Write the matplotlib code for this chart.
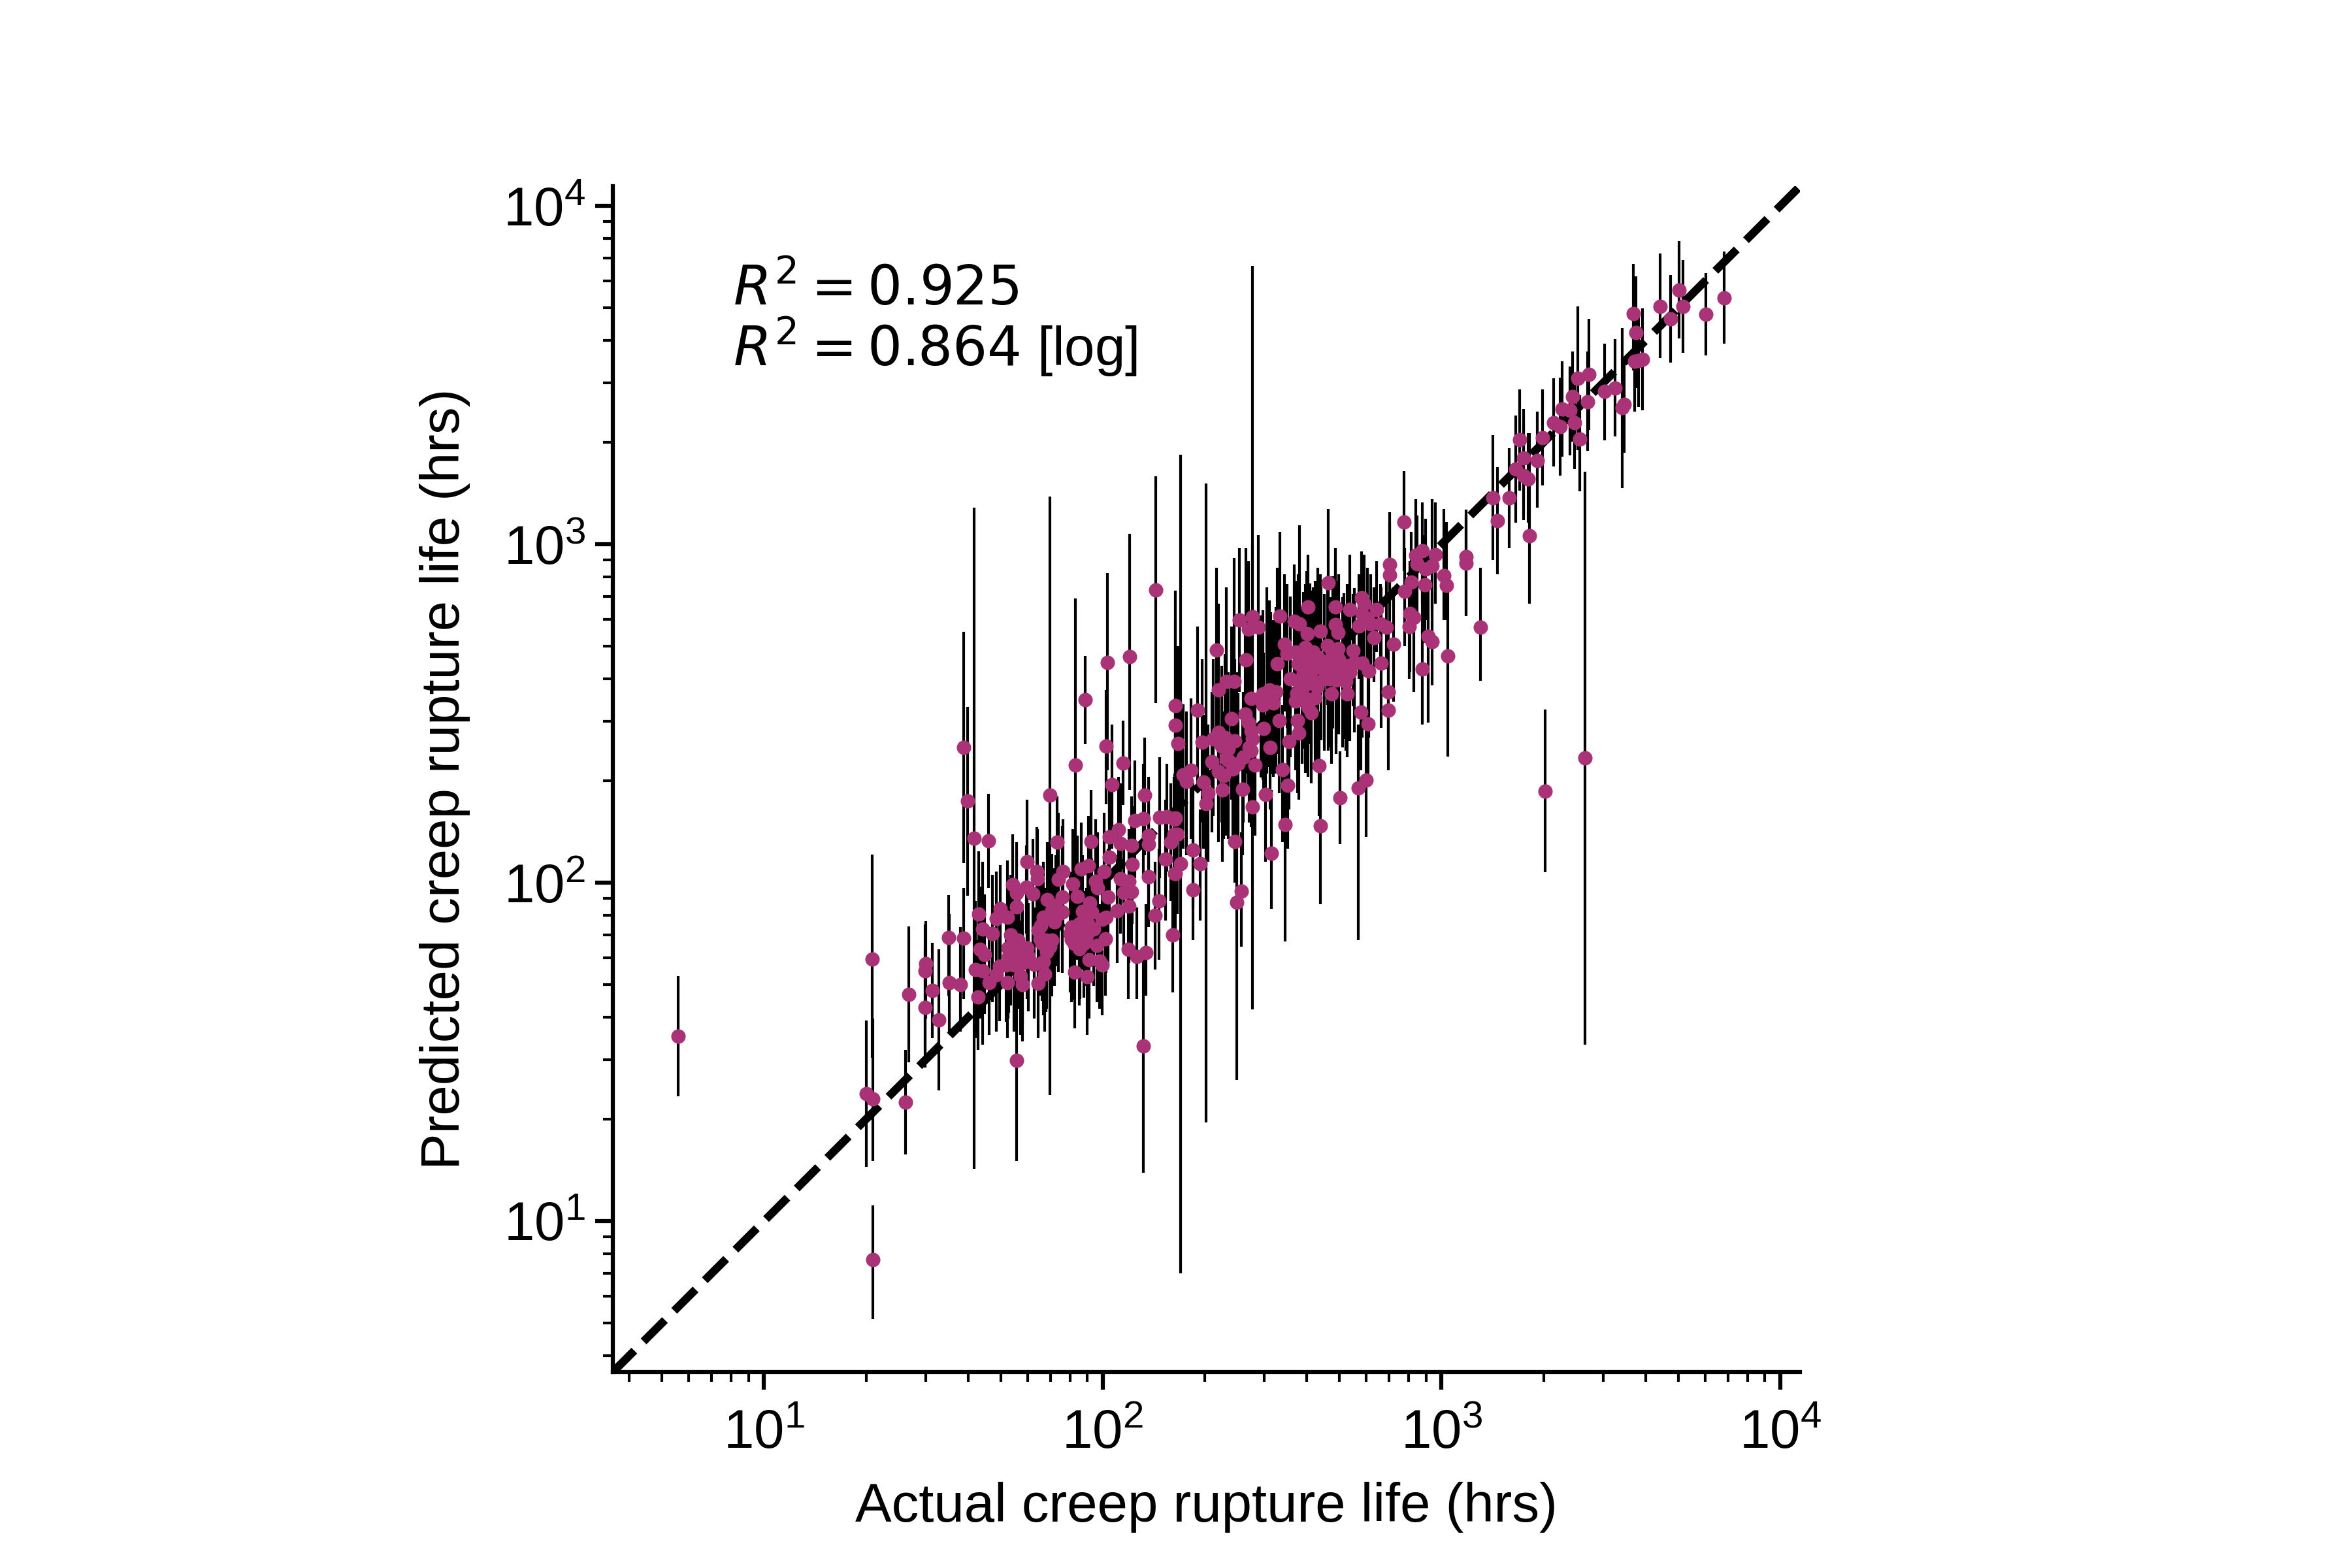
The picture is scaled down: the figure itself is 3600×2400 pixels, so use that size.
import numpy as np
import matplotlib
matplotlib.use('Agg')
import matplotlib.pyplot as plt

plt.rcParams['font.family'] = ['Liberation Sans', 'DejaVu Sans']

log_actual = [
    0.746, 1.301, 1.322, 1.320, 1.322, 1.417, 1.428, 1.476, 1.476, 1.478, 1.497, 1.516, 1.544, 1.546, 1.579, 1.590,
    1.589, 1.600, 1.621, 1.663, 1.633, 1.631, 1.623, 1.646, 1.675, 1.637, 1.650, 1.646, 1.665, 1.685, 1.685, 1.698,
    1.718, 1.728, 1.749, 1.720, 1.753, 1.776, 1.714, 1.737, 1.762, 1.758, 1.762, 1.718, 1.745, 1.734, 1.745, 1.774,
    1.793, 1.745, 1.776, 1.806, 1.808, 1.843, 1.866, 1.837, 1.881, 1.862, 1.881, 1.858, 1.824, 1.816, 1.814, 1.833,
    1.843, 1.835, 1.797, 1.824, 1.829, 1.810, 1.883, 1.868, 1.911, 1.925, 1.919, 1.948, 1.965, 1.936, 1.957, 2.003,
    1.978, 1.984, 2.015, 1.961, 1.940, 1.967, 1.930, 1.903, 1.907, 1.932, 1.974, 1.951, 1.930, 2.007, 1.982, 1.959,
    1.990, 1.999, 1.917, 1.953, 2.009, 2.013, 2.059, 2.080, 2.028, 2.046, 2.019, 2.052, 2.085, 2.094, 2.119, 2.123,
    2.167, 2.190, 2.212, 2.135, 2.135, 2.200, 2.210, 2.019, 2.087, 2.185, 2.135, 2.212, 2.052, 2.077, 2.062, 2.085,
    2.077, 2.043, 2.009, 1.999, 2.165, 2.154, 2.206, 2.075, 2.100, 2.127, 2.119, 2.156, 2.215, 2.215, 2.221, 2.215,
    2.219, 2.229, 2.215, 2.266, 2.287, 2.266, 2.280, 2.305, 2.293, 2.238, 2.261, 2.247, 2.297, 2.310, 2.322, 2.326,
    2.341, 2.351, 2.341, 2.356, 2.353, 2.364, 2.383, 2.370, 2.389, 2.380, 2.412, 2.389, 2.395, 2.408, 2.341, 2.364,
    2.387, 2.335, 2.420, 2.431, 2.437, 2.441, 2.433, 2.414, 2.449, 2.441, 2.422, 2.474, 2.521, 2.493, 2.530, 2.546,
    2.481, 2.498, 2.538, 2.574, 2.578, 2.549, 2.638, 2.701, 2.754, 2.777, 2.642, 2.437, 2.472, 2.491, 2.511, 2.472,
    2.503, 2.485, 2.515, 2.569, 2.605, 2.615, 2.626, 2.676, 2.722, 2.762, 2.783, 2.576, 2.601, 2.634, 2.665, 2.697,
    2.722, 2.576, 2.615, 2.653, 2.672, 2.707, 2.730, 2.626, 2.665, 2.588, 2.765, 2.785, 2.821, 2.842, 2.842, 2.943,
    3.018, 2.404, 2.441, 2.431, 2.460, 2.523, 2.565, 2.580, 2.605, 2.665, 2.686, 2.730, 2.763, 2.771, 2.808, 2.765,
    2.756, 2.790, 2.819, 2.838, 2.800, 2.781, 2.859, 2.846, 2.846, 2.889, 2.891, 2.910, 2.924, 2.943, 2.981, 2.928,
    2.953, 2.972, 2.951, 3.006, 3.014, 3.073, 3.073, 2.907, 2.918, 2.905, 2.960, 2.972, 3.115, 2.643, 2.686, 2.695,
    2.663, 2.695, 2.739, 2.603, 2.536, 2.569, 2.544, 2.597, 2.622, 3.151, 3.199, 3.165, 3.260, 3.218, 3.242, 3.256,
    3.242, 3.283, 3.231, 3.298, 3.331, 3.350, 3.356, 3.379, 3.386, 3.392, 3.408, 3.402, 3.431, 3.434, 3.482, 3.512,
    3.539, 3.533, 3.566, 3.574, 3.570, 3.581, 3.593, 3.645, 3.676, 3.701, 3.713, 3.780, 3.835, 3.423, 3.306,
    2.592, 2.611, 2.644, 2.688, 2.711, 2.599, 2.632, 2.688, 2.717, 2.742, 2.679, 2.553, 2.572, 2.598,
    1.810, 1.820, 1.849, 1.916, 1.945, 1.907, 1.955, 1.723, 1.743, 1.695, 1.781, 1.868, 1.849,
    2.370, 2.360, 2.495, 2.466, 2.437, 2.399,
]
log_pred = [
    1.546, 1.376, 1.361, 1.774, 0.886, 1.351, 1.670, 1.631, 1.739, 1.761, 1.681, 1.595, 1.838, 1.705, 1.699, 1.836,
    2.400, 2.241, 2.131, 2.124, 1.907, 1.662, 1.743, 1.863, 1.849, 1.803, 1.788, 1.739, 1.705, 1.728, 1.894, 1.923,
    1.898, 1.846, 1.830, 1.807, 1.805, 1.807, 1.757, 1.757, 1.763, 1.724, 1.699, 1.705, 1.475, 1.994, 1.969, 1.986,
    1.967, 1.929, 2.062, 2.033, 2.012, 2.259, 2.120, 1.950, 1.958, 1.932, 1.913, 1.884, 1.898, 1.873, 1.834, 1.830,
    1.811, 1.795, 1.759, 1.766, 1.730, 1.703, 2.033, 2.010, 1.996, 1.959, 2.347, 2.541, 2.122, 2.041, 2.050, 2.033,
    2.004, 1.985, 1.958, 1.940, 1.915, 1.913, 1.878, 1.849, 1.832, 1.844, 1.863, 1.844, 1.805, 1.834, 1.815, 1.772,
    1.768, 1.757, 1.736, 1.722, 2.403, 2.651, 2.353, 2.668, 2.290, 2.156, 2.135, 2.116, 2.110, 2.183, 2.189, 2.259,
    2.193, 2.195, 2.187, 2.139, 2.114, 2.120, 2.143, 2.075, 2.054, 2.069, 2.017, 2.027, 2.012, 2.004, 1.971, 1.973,
    1.930, 1.917, 1.898, 1.892, 1.946, 1.903, 1.846, 1.803, 1.782, 1.793, 1.517, 2.865, 2.523, 2.465, 2.411, 2.191,
    2.143, 2.056, 2.027, 2.097, 2.056, 1.979, 2.510, 2.234, 2.415, 2.319, 2.332, 2.299, 2.297, 2.264, 2.357, 2.425,
    2.444, 2.403, 2.328, 2.317, 2.274, 2.367, 2.336, 2.396, 2.419, 2.485, 2.276, 2.122, 1.942, 1.975, 2.569, 2.595,
    2.595, 2.687, 2.498, 2.473, 2.448, 2.425, 2.400, 2.371, 2.347, 2.224, 2.658, 2.456, 2.479, 2.400, 2.334, 2.288,
    2.261, 2.087, 2.172, 2.479, 2.442, 2.417, 2.346, 2.251, 2.280, 2.303, 2.168, 2.544, 2.558, 2.569, 2.564, 2.525,
    2.531, 2.550, 2.647, 2.537, 2.519, 2.502, 2.546, 2.558, 2.558, 2.504, 2.469, 2.647, 2.660, 2.666, 2.654, 2.660,
    2.641, 2.597, 2.602, 2.602, 2.602, 2.606, 2.622, 2.635, 2.625, 2.573, 2.649, 2.625, 2.649, 2.564, 2.510, 2.631,
    2.670, 2.776, 2.786, 2.749, 2.755, 2.788, 2.772, 2.764, 2.815, 2.886, 2.815, 2.807, 2.842, 2.824, 2.807, 2.793,
    2.759, 2.764, 2.764, 2.755, 2.724, 2.780, 2.705, 2.940, 2.909, 3.066, 2.861, 2.888, 2.967, 2.981, 2.969, 2.942,
    2.927, 2.936, 2.880, 2.907, 2.878, 2.963, 2.944, 2.795, 2.784, 2.757, 2.728, 2.712, 2.755, 2.743, 2.763, 2.739,
    2.701, 2.691, 2.685, 2.736, 2.705, 2.681, 2.678, 2.695, 2.681, 3.137, 3.137, 3.069, 3.025, 3.222, 3.203, 3.193,
    3.255, 3.247, 3.309, 3.315, 3.359, 3.347, 3.400, 3.396, 3.436, 3.359, 3.311, 3.490, 3.421, 3.502, 3.452, 3.461,
    3.413, 3.403, 3.681, 3.625, 3.541, 3.542, 3.546, 3.703, 3.666, 3.751, 3.703, 3.680, 3.728, 2.369, 2.270,
    2.622, 2.637, 2.637, 2.633, 2.633, 2.587, 2.579, 2.598, 2.595, 2.651, 2.676, 2.602, 2.560, 2.544,
    1.859, 1.820, 1.830, 1.820, 1.820, 1.869, 1.878, 1.782, 1.788, 1.753, 1.782, 1.907, 1.917,
    2.361, 2.429, 2.548, 2.541, 2.390, 2.351,
]
log_pred_hi = [
    1.724, 1.593, 1.598, 2.083, 1.046, 1.506, 1.871, 1.811, 1.876, 1.886, 1.822, 1.803, 1.963, 1.908, 1.869, 1.985,
    2.741, 2.519, 3.108, 2.263, 2.093, 1.830, 1.946, 2.062, 2.023, 1.988, 1.965, 1.936, 1.869, 1.907, 2.033, 2.052,
    2.066, 2.023, 1.994, 2.013, 1.975, 1.955, 1.917, 1.946, 1.936, 1.888, 1.859, 1.869, 1.753, 2.143, 2.120, 2.110,
    2.129, 2.091, 2.245, 2.164, 2.158, 3.141, 2.255, 2.120, 2.168, 2.081, 2.081, 2.042, 2.062, 2.033, 2.004, 1.985,
    1.965, 1.946, 1.927, 1.917, 1.888, 1.859, 2.187, 2.207, 2.158, 2.139, 2.840, 2.671, 2.274, 2.178, 2.197, 2.207,
    2.187, 2.149, 2.101, 2.120, 2.081, 2.072, 2.042, 2.023, 2.013, 2.004, 2.023, 1.985, 1.965, 1.994, 1.975, 1.927,
    1.936, 1.907, 1.907, 1.869, 2.569, 2.916, 2.479, 3.031, 2.467, 2.313, 2.293, 2.293, 2.255, 2.361, 2.351, 2.429,
    2.371, 2.351, 2.322, 2.313, 2.303, 2.293, 2.313, 2.245, 2.226, 2.245, 2.168, 2.197, 2.168, 2.158, 2.120, 2.129,
    2.091, 2.081, 2.052, 2.042, 2.101, 2.062, 2.013, 1.955, 1.927, 1.936, 1.772, 3.201, 2.863, 2.776, 2.699, 2.448,
    2.371, 3.264, 2.197, 2.293, 2.216, 2.129, 2.757, 3.180, 2.660, 2.527, 2.544, 2.506, 2.496, 2.467, 2.564, 2.660,
    2.708, 2.641, 2.525, 2.506, 2.477, 2.583, 2.544, 2.622, 2.660, 2.757, 2.486, 2.293, 2.622, 2.149, 2.824, 2.873,
    2.960, 2.930, 2.747, 2.680, 2.660, 2.641, 2.612, 2.564, 2.554, 3.822, 2.988, 2.680, 2.699, 2.603, 2.525, 2.496,
    2.467, 2.274, 2.351, 2.680, 2.641, 2.612, 2.506, 2.388, 2.467, 2.496, 2.351, 2.776, 2.805, 2.834, 2.815, 2.766,
    2.776, 2.873, 2.931, 2.776, 2.757, 2.728, 2.776, 2.785, 2.776, 2.699, 2.660, 2.911, 2.921, 2.931, 2.911, 2.911,
    2.882, 2.853, 2.863, 2.853, 2.844, 2.844, 2.863, 2.892, 2.873, 2.815, 2.873, 2.834, 2.873, 2.747, 2.699, 2.892,
    2.873, 2.988, 2.998, 2.950, 3.027, 3.037, 2.940, 3.056, 2.969, 3.104, 2.988, 2.969, 2.979, 2.969, 2.950, 2.940,
    2.911, 2.911, 2.882, 2.902, 2.873, 2.931, 2.873, 3.095, 3.066, 3.216, 2.988, 3.037, 3.133, 3.123, 3.123, 3.085,
    3.075, 3.133, 3.027, 3.104, 3.066, 3.102, 3.085, 2.950, 2.931, 2.911, 2.892, 2.863, 2.931, 2.911, 2.950, 2.892,
    2.873, 2.863, 2.853, 2.902, 2.911, 2.892, 2.882, 2.882, 2.873, 3.322, 3.284, 3.228, 3.328, 3.380, 3.355, 3.328,
    3.400, 3.392, 3.458, 3.458, 3.490, 3.492, 3.541, 3.525, 3.569, 3.471, 3.440, 3.703, 3.569, 3.666, 3.593, 3.606,
    3.542, 3.639, 3.828, 3.792, 3.664, 3.674, 3.697, 3.859, 3.795, 3.896, 3.840, 3.801, 3.865, 3.214, 2.511,
    2.860, 2.885, 2.872, 2.868, 2.855, 2.830, 2.812, 2.835, 2.822, 2.870, 2.905, 2.845, 2.790, 2.775,
    2.020, 1.985, 1.995, 1.980, 1.975, 2.030, 2.040, 1.945, 1.955, 1.915, 1.940, 2.075, 2.085,
    2.590, 2.675, 2.800, 2.790, 2.610, 2.560,
]
log_pred_lo = [
    1.369, 1.160, 1.178, 1.483, 0.710, 1.197, 1.469, 1.454, 1.502, 1.598, 1.541, 1.386, 1.666, 1.556, 1.560, 1.656,
    2.058, 1.961, 1.154, 1.985, 1.714, 1.506, 1.541, 1.637, 1.647, 1.598, 1.612, 1.521, 1.550, 1.560, 1.695, 1.734,
    1.714, 1.637, 1.666, 1.598, 1.627, 1.656, 1.589, 1.560, 1.579, 1.550, 1.531, 1.541, 1.178, 1.830, 1.811, 1.849,
    1.772, 1.753, 1.830, 1.859, 1.849, 1.373, 1.975, 1.772, 1.772, 1.753, 1.734, 1.695, 1.724, 1.705, 1.666, 1.618,
    1.647, 1.627, 1.598, 1.608, 1.560, 1.541, 1.878, 1.792, 1.820, 1.772, 1.837, 2.409, 1.956, 1.888, 1.869, 1.849,
    1.820, 1.811, 1.753, 1.762, 1.743, 1.753, 1.714, 1.676, 1.647, 1.656, 1.695, 1.695, 1.637, 1.666, 1.647, 1.598,
    1.627, 1.608, 1.570, 1.550, 2.232, 2.332, 2.230, 2.274, 2.100, 1.985, 1.961, 1.927, 1.965, 2.013, 2.013, 2.081,
    2.013, 2.033, 2.023, 1.985, 1.936, 1.946, 1.965, 1.907, 1.878, 1.888, 1.869, 1.849, 1.849, 1.830, 1.801, 1.811,
    1.762, 1.762, 1.734, 1.743, 1.772, 1.743, 1.676, 1.656, 1.656, 1.666, 1.143, 2.531, 2.178, 2.158, 2.120, 1.946,
    1.907, 0.846, 1.859, 1.927, 1.888, 1.830, 2.274, 1.292, 2.178, 2.100, 2.129, 2.081, 2.100, 2.062, 2.149, 2.197,
    2.216, 2.178, 2.120, 2.129, 2.062, 2.139, 2.129, 2.168, 2.178, 2.245, 2.081, 2.000, 1.417, 1.811, 2.322, 2.342,
    2.264, 2.458, 2.294, 2.274, 2.226, 2.197, 2.178, 2.178, 2.139, 1.625, 2.322, 2.255, 2.264, 2.216, 2.120, 2.100,
    2.062, 1.923, 1.826, 2.264, 2.245, 2.216, 2.197, 2.114, 1.830, 2.135, 1.936, 2.313, 2.322, 2.342, 2.322, 2.303,
    2.313, 2.322, 2.380, 2.332, 2.313, 2.293, 2.332, 2.351, 2.371, 2.332, 2.313, 2.390, 2.409, 2.427, 2.419, 2.438,
    2.429, 2.361, 2.380, 2.390, 2.400, 2.400, 2.419, 2.400, 2.390, 2.351, 2.429, 2.429, 2.458, 2.390, 2.332, 2.467,
    2.373, 2.564, 2.583, 2.554, 2.535, 2.583, 2.602, 2.583, 2.622, 2.680, 2.631, 2.641, 2.670, 2.660, 2.681, 2.641,
    2.602, 2.622, 2.641, 2.631, 2.593, 2.631, 2.535, 2.815, 2.757, 2.921, 2.699, 2.737, 2.805, 2.824, 2.824, 2.786,
    2.776, 2.805, 2.709, 2.776, 2.776, 2.788, 2.794, 2.622, 2.564, 2.602, 2.473, 2.583, 2.597, 2.564, 2.583, 2.544,
    2.525, 2.506, 2.521, 2.564, 2.506, 2.477, 2.458, 2.496, 2.496, 2.954, 2.988, 2.911, 2.824, 3.064, 3.071, 3.064,
    3.085, 3.108, 3.158, 3.174, 3.230, 3.203, 3.259, 3.263, 3.303, 3.222, 3.156, 3.278, 3.276, 3.338, 3.307, 3.319,
    3.270, 3.166, 3.514, 3.461, 3.392, 3.405, 3.396, 3.550, 3.537, 3.608, 3.566, 3.558, 3.593, 1.521, 2.030,
    2.395, 2.410, 2.420, 2.412, 2.425, 2.365, 2.352, 2.380, 2.390, 2.445, 2.455, 2.370, 2.340, 2.325,
    1.690, 1.650, 1.665, 1.655, 1.660, 1.700, 1.710, 1.615, 1.625, 1.590, 1.620, 1.735, 1.745,
    2.130, 2.190, 2.320, 2.310, 2.165, 2.120,
]
axis_limits = [3.58, 11430]
r2_linear = 0.925
r2_log = 0.864

actual = 10 ** np.array(log_actual)
pred = 10 ** np.array(log_pred)
pred_hi = 10 ** np.array(log_pred_hi)
pred_lo = 10 ** np.array(log_pred_lo)

fig = plt.figure(figsize=(12, 8))
ax = fig.add_axes([0.2606, 0.125, 0.5047, 0.7562])

ax.plot(axis_limits, axis_limits, color='k', ls='--', lw=3, zorder=1)
ax.errorbar(actual, pred, yerr=[pred - pred_lo, pred_hi - pred], fmt='o', color='#AA3377', ms=5.3, mew=0,
            ecolor='k', elinewidth=1, zorder=2)

ax.set_xscale('log')
ax.set_yscale('log')
ax.set_xlim(axis_limits)
ax.set_ylim(axis_limits)
ax.spines['top'].set_visible(False)
ax.spines['right'].set_visible(False)
ax.spines['left'].set_linewidth(1.5)
ax.spines['bottom'].set_linewidth(1.5)
ax.tick_params(which='major', length=6.5, width=1.5, labelsize=20)
ax.tick_params(axis='x', which='major', pad=7)
ax.tick_params(which='minor', length=3.6, width=1)
ax.set_xlabel('Actual creep rupture life (hrs)', fontsize=20, labelpad=8)
ax.set_ylabel('Predicted creep rupture life (hrs)', fontsize=20, labelpad=12)

ax.text(0.101, 0.935, f'$R^2 = {r2_linear}$\n$R^2 = {r2_log}$ [log]', transform=ax.transAxes, va='top',
        fontsize=20, linespacing=0.98)

fig.savefig('out.png', dpi=300)
